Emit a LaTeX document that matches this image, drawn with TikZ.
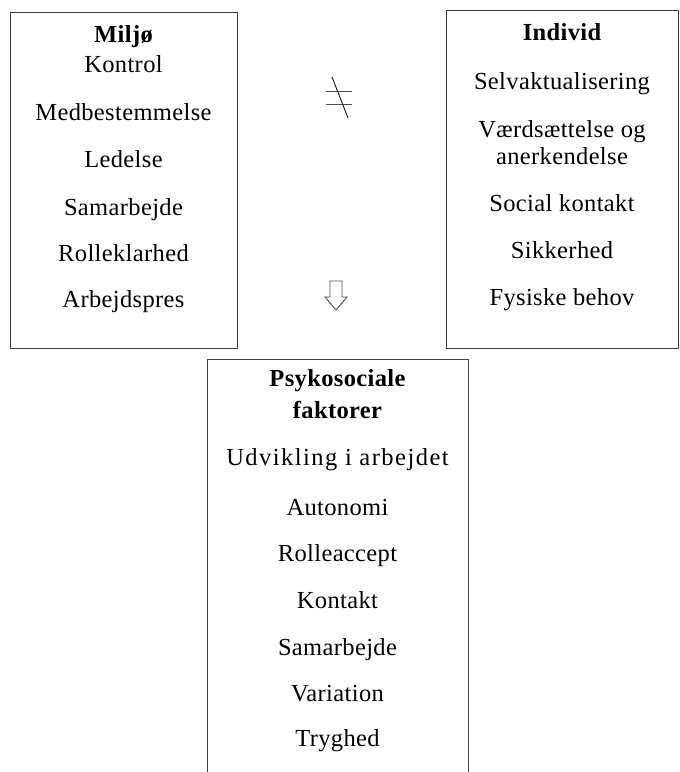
\documentclass[tikz,border=0pt]{standalone}
\usepackage{fontspec}
\setmainfont{Liberation Serif}[LetterSpace=1.5]
\begin{document}
\begin{tikzpicture}[x=1pt,y=-1pt,
  boxline/.style={draw=black!75,line width=0.9pt},
  item/.style={anchor=base,inner sep=0pt,font=\fontsize{24.5}{27}\selectfont},
  head/.style={anchor=base,inner sep=0pt,font=\fontsize{24.5}{27}\selectfont\bfseries},
  symline/.style={draw=black!70,line width=0.9pt}]
\useasboundingbox (0,0) rectangle (680,772);
% boxes
\draw[boxline] (10,12) rectangle (237,348);
\draw[boxline] (446,10) rectangle (678,348);
\draw[boxline] (207,780) -- (207,359) -- (468,359) -- (468,780);
% left box
\node[head] (m0) at (123.5,42.7) {Miljø};
\node[item] (m1) at (123.5,72.7) {Kontrol};
\node[item] (m2) at (123.5,120) {Medbestemmelse};
\node[item] (m3) at (123.5,167.7) {Ledelse};
\node[item] (m4) at (123.5,215) {Samarbejde};
\node[item] (m5) at (123.5,261) {Rolleklarhed};
\node[item] (m6) at (123.5,307) {Arbejdspres};
% right box
\node[head] (i0) at (562,40.7) {Individ};
\node[item] (i1) at (562,89.3) {Selvaktualisering};
\node[item] (i2) at (562,137.3) {Værdsættelse og};
\node[item] (i3) at (562,164.3) {anerkendelse};
\node[item] (i4) at (562,211) {Social kontakt};
\node[item] (i5) at (562,258.3) {Sikkerhed};
\node[item] (i6) at (562,305) {Fysiske behov};
% bottom box
\node[head] (p0) at (337.5,386.7) {Psykosociale};
\node[head] (p1) at (337.5,418.3) {faktorer};
\node[item] (p2) at (337.5,465) {\addfontfeatures{LetterSpace=6}Udvikling i arbejdet};
\node[item] (p3) at (337.5,515) {Autonomi};
\node[item] (p4) at (337.5,561.7) {Rolleaccept};
\node[item] (p5) at (337.5,608.3) {Kontakt};
\node[item] (p6) at (337.5,655) {Samarbejde};
\node[item] (p7) at (337.5,701.7) {Variation};
\node[item] (p8) at (337.5,746.7) {Tryghed};
% not-equal sign
\coordinate (ne1a) at (326,91); \coordinate (ne1b) at (352,91);
\coordinate (ne2a) at (326,104); \coordinate (ne2b) at (352,104);
\coordinate (nesa) at (332,77); \coordinate (nesb) at (348,118);
\draw[symline] (ne1a) -- (ne1b);
\draw[symline] (ne2a) -- (ne2b);
\draw[draw=black!90,line width=0.9pt] (nesa) -- (nesb);
% hollow down arrow
\draw[symline,line join=miter] (330,281) -- (342,281) -- (342,297) -- (347,297) -- (336,310) -- (325,297) -- (330,297) -- cycle;
\end{tikzpicture}
\end{document}
